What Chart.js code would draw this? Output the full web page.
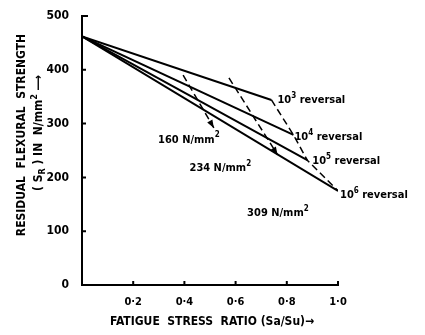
<!DOCTYPE html>
<html>
<head>
<meta charset="utf-8">
<script src="https://cdn.jsdelivr.net/npm/chart.js@4"></script>
<style>
html, body { margin: 0; background: #fff; }
#wrap { width: 425px; height: 335px; }
</style>
</head>
<body>
<div id="wrap"><canvas id="chart" width="425" height="335"></canvas></div>
<script>
// 모든 선은 (0, 462)에서 시작
const startRatio = 0;
const startStrength = 462;

// 반복 횟수별 끝점 (10^3 ~ 10^6 reversal)
const reversalExponents = ['3', '4', '5', '6'];
const reversalEndRatio = [0.74, 0.826, 0.88, 1.0];
const reversalEndStrength = [344, 279, 232, 175];

// 응력 수준 점선
const stressLabels = ['160', '234', '309'];
const stress160Ratio = [0.395, 0.515];
const stress160Strength = [390, 292];
const stress234Ratio = [0.574, 0.764];
const stress234Strength = [385, 242];
const stress309Ratio = reversalEndRatio;
const stress309Strength = reversalEndStrength;

// 축 눈금
const xTicks = [0.2, 0.4, 0.6, 0.8, 1.0];
const yTicks = [0, 100, 200, 300, 400, 500];

const FONT = "'DejaVu Sans Condensed', 'DejaVu Sans', sans-serif";

function toPoints(xs, ys) {
    return xs.map((x, i) => ({ x: x, y: ys[i] }));
}

const datasets = [];

// 실선: 각 reversal 선
reversalEndRatio.forEach((r, i) => {
    datasets.push({
        data: [{ x: startRatio, y: startStrength }, { x: r, y: reversalEndStrength[i] }],
        borderColor: '#000',
        borderWidth: 2,
        showLine: true,
        pointRadius: 0
    });
});

// 점선: 응력 수준
[[stress160Ratio, stress160Strength], [stress234Ratio, stress234Strength], [stress309Ratio, stress309Strength]]
    .forEach(([xs, ys]) => {
        datasets.push({
            data: toPoints(xs, ys),
            borderColor: '#000',
            borderWidth: 1.5,
            borderDash: [7, 4],
            showLine: true,
            pointRadius: 0
        });
    });

// 위첨자/아래첨자 텍스트 그리기
function drawRich(ctx, parts, x, y, size, align) {
    const fontOf = m => 'bold ' + (m ? Math.round(size * 0.75) : size) + 'px ' + FONT;
    const widths = parts.map(([t, m]) => { ctx.font = fontOf(m); return ctx.measureText(t).width; });
    const total = widths.reduce((a, b) => a + b, 0);
    let cx = align === 'center' ? x - total / 2 : x;
    ctx.textAlign = 'left';
    ctx.textBaseline = 'middle';
    parts.forEach(([t, m], i) => {
        ctx.font = fontOf(m);
        const dy = m === 'sup' ? -size * 0.4 : m === 'sub' ? size * 0.3 : 0;
        ctx.fillText(t, cx, y + dy);
        cx += widths[i];
    });
}

function arrowHead(ctx, x0, y0, x1, y1) {
    const a = Math.atan2(y1 - y0, x1 - x0);
    ctx.beginPath();
    ctx.moveTo(x1, y1);
    ctx.lineTo(x1 - 8 * Math.cos(a) + 3 * Math.sin(a), y1 - 8 * Math.sin(a) - 3 * Math.cos(a));
    ctx.lineTo(x1 - 8 * Math.cos(a) - 3 * Math.sin(a), y1 - 8 * Math.sin(a) + 3 * Math.cos(a));
    ctx.closePath();
    ctx.fill();
}

const labelsPlugin = {
    id: 'labels',
    afterDraw(chart) {
        const { ctx, scales: { x, y }, chartArea } = chart;
        ctx.save();
        ctx.fillStyle = '#000';
        ctx.strokeStyle = '#000';
        ctx.lineWidth = 2;

        // 눈금 표시
        ctx.beginPath();
        xTicks.forEach(v => {
            const px = x.getPixelForValue(v);
            ctx.moveTo(px, chartArea.bottom);
            ctx.lineTo(px, chartArea.bottom - 4);
        });
        yTicks.slice(1, -1).forEach(v => {
            const py = y.getPixelForValue(v);
            ctx.moveTo(chartArea.left, py);
            ctx.lineTo(chartArea.left + 4, py);
        });
        const top = y.getPixelForValue(500);
        ctx.moveTo(chartArea.left - 1, top);
        ctx.lineTo(chartArea.left + 6, top);
        ctx.stroke();

        // 화살표
        arrowHead(ctx, x.getPixelForValue(stress160Ratio[0]), y.getPixelForValue(stress160Strength[0]),
            x.getPixelForValue(stress160Ratio[1]), y.getPixelForValue(stress160Strength[1]));
        arrowHead(ctx, x.getPixelForValue(stress234Ratio[0]), y.getPixelForValue(stress234Strength[0]),
            x.getPixelForValue(stress234Ratio[1]), y.getPixelForValue(stress234Strength[1]));

        // reversal 라벨
        const offsets = [[6, 0], [1, 2], [5, 1], [2, 4]];
        reversalExponents.forEach((e, i) => {
            const px = x.getPixelForValue(reversalEndRatio[i]) + offsets[i][0];
            const py = y.getPixelForValue(reversalEndStrength[i]) + offsets[i][1];
            drawRich(ctx, [['10'], [e, 'sup'], [' reversal']], px, py, 11, 'left');
        });

        // 응력 라벨
        const stressPos = [[0.297, 270], [0.42, 217], [0.645, 134]];
        stressLabels.forEach((s, i) => {
            drawRich(ctx, [[s + ' N/mm'], ['2', 'sup']],
                x.getPixelForValue(stressPos[i][0]), y.getPixelForValue(stressPos[i][1]), 11, 'left');
        });

        // 축 제목
        drawRich(ctx, [['FATIGUE  STRESS  RATIO (Sa/Su)→']], 212, 322, 12, 'center');
        ctx.translate(22, 135);
        ctx.rotate(-Math.PI / 2);
        drawRich(ctx, [['RESIDUAL  FLEXURAL  STRENGTH']], 0, 0, 12, 'center');
        ctx.rotate(Math.PI / 2);
        ctx.translate(17, -2);
        ctx.rotate(-Math.PI / 2);
        drawRich(ctx, [['( S'], ['R', 'sub'], [' ) IN  N/mm'], ['2', 'sup'], [' ⟶']], 0, 0, 12, 'center');
        ctx.restore();
    }
};

const chart = new Chart(document.getElementById('chart'), {
    type: 'scatter',
    data: { datasets: datasets },
    options: {
        responsive: false,
        animation: false,
        layout: { padding: { top: 16, right: 87, left: 0, bottom: 0 } },
        plugins: {
            legend: { display: false },
            tooltip: { enabled: false }
        },
        scales: {
            x: {
                min: 0,
                max: 1,
                afterFit: s => { s.height = 50; },
                grid: { display: false },
                border: { color: '#000', width: 2 },
                ticks: {
                    stepSize: 0.2,
                    padding: 3,
                    color: '#000',
                    font: { family: FONT, size: 11, weight: 'bold' },
                    callback: v => v === 0 ? '' : v.toFixed(1).replace('.', '·')
                }
            },
            y: {
                min: 0,
                max: 500,
                afterFit: s => { s.width = 82; },
                grid: { display: false },
                border: { color: '#000', width: 2 },
                ticks: {
                    stepSize: 100,
                    padding: 5,
                    color: '#000',
                    font: { family: FONT, size: 12, weight: 'bold' }
                }
            }
        }
    },
    plugins: [labelsPlugin]
});
</script>
</body>
</html>
